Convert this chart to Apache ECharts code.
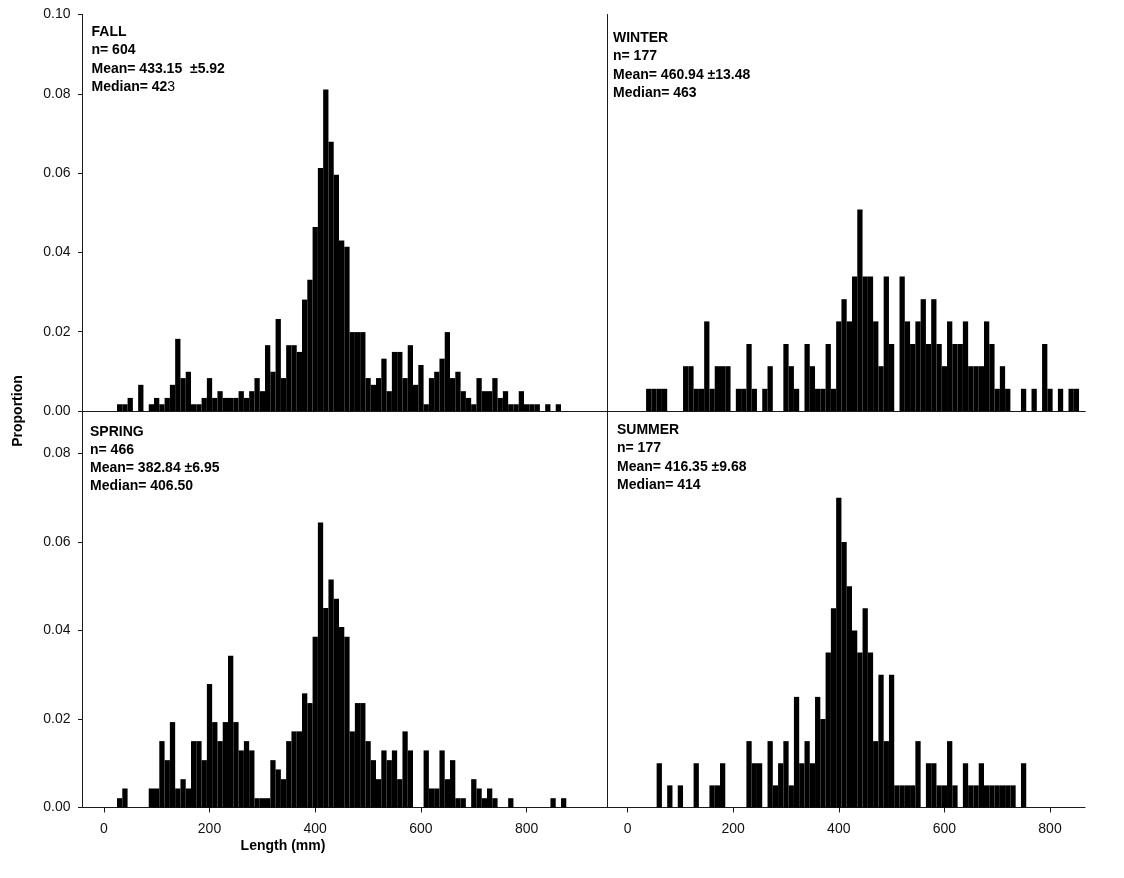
<!DOCTYPE html>
<html>
<head>
<meta charset="utf-8">
<script src="https://cdn.jsdelivr.net/npm/echarts@6/dist/echarts.min.js"></script>
<style>
  html, body { margin: 0; padding: 0; background: #fff; }
  #chart { width: 1124px; height: 878px; }
</style>
</head>
<body>
<div id="chart"></div>
<script>
// bin centres (mm), 10 mm wide bins
const bins = [10, 20, 30, 40, 50, 60, 70, 80, 90, 100, 110, 120, 130, 140, 150, 160, 170, 180, 190, 200,
    210, 220, 230, 240, 250, 260, 270, 280, 290, 300, 310, 320, 330, 340, 350, 360, 370, 380, 390, 400,
    410, 420, 430, 440, 450, 460, 470, 480, 490, 500, 510, 520, 530, 540, 550, 560, 570, 580, 590, 600,
    610, 620, 630, 640, 650, 660, 670, 680, 690, 700, 710, 720, 730, 740, 750, 760, 770, 780, 790, 800,
    810, 820, 830, 840, 850, 860, 870];

const fall = [0, 0, 0.0017, 0.0017, 0.0033, 0, 0.0066, 0, 0.0017, 0.0033, 0.0017, 0.0033, 0.0066, 0.0182, 0.0083, 0.0099, 0.0017, 0.0017, 0.0033, 0.0083,
    0.0033, 0.0050, 0.0033, 0.0033, 0.0033, 0.0050, 0.0033, 0.0050, 0.0083, 0.0050, 0.0166, 0.0099, 0.0232, 0.0083, 0.0166, 0.0166, 0.0149, 0.0281, 0.0331, 0.0464,
    0.0613, 0.0811, 0.0679, 0.0596, 0.0430, 0.0414, 0.0199, 0.0199, 0.0199, 0.0083, 0.0066, 0.0083, 0.0132, 0.0050, 0.0149, 0.0149, 0.0083, 0.0166, 0.0066, 0.0116,
    0.0017, 0.0083, 0.0099, 0.0132, 0.0199, 0.0083, 0.0099, 0.0050, 0.0033, 0.0017, 0.0083, 0.0050, 0.0050, 0.0083, 0.0033, 0.0050, 0.0017, 0.0017, 0.0050, 0.0017,
    0.0017, 0.0017, 0, 0.0017, 0, 0.0017, 0];

const winter = [0, 0, 0, 0.0056, 0.0056, 0.0056, 0.0056, 0, 0, 0, 0.0113, 0.0113, 0.0056, 0.0056, 0.0226, 0.0056, 0.0113, 0.0113, 0.0113, 0,
    0.0056, 0.0056, 0.0169, 0.0056, 0, 0.0056, 0.0113, 0, 0, 0.0169, 0.0113, 0.0056, 0, 0.0169, 0.0113, 0.0056, 0.0056, 0.0169, 0.0056, 0.0226,
    0.0282, 0.0226, 0.0339, 0.0508, 0.0339, 0.0339, 0.0226, 0.0113, 0.0339, 0.0169, 0, 0.0339, 0.0226, 0.0169, 0.0226, 0.0282, 0.0169, 0.0282, 0.0169, 0.0113,
    0.0226, 0.0169, 0.0169, 0.0226, 0.0113, 0.0113, 0.0113, 0.0226, 0.0169, 0.0056, 0.0113, 0.0056, 0, 0, 0.0056, 0, 0.0056, 0, 0.0169, 0.0056,
    0, 0.0056, 0, 0.0056, 0.0056, 0, 0];

const spring = [0, 0, 0.0021, 0.0043, 0, 0, 0, 0, 0.0043, 0.0043, 0.0150, 0.0107, 0.0193, 0.0043, 0.0064, 0.0043, 0.0150, 0.0150, 0.0107, 0.0279,
    0.0193, 0.0150, 0.0193, 0.0343, 0.0193, 0.0129, 0.0150, 0.0129, 0.0021, 0.0021, 0.0021, 0.0107, 0.0086, 0.0064, 0.0150, 0.0172, 0.0172, 0.0258, 0.0236, 0.0386,
    0.0644, 0.0451, 0.0515, 0.0472, 0.0408, 0.0386, 0.0172, 0.0236, 0.0236, 0.0150, 0.0107, 0.0064, 0.0129, 0.0107, 0.0129, 0.0064, 0.0172, 0.0129, 0, 0,
    0.0129, 0.0043, 0.0043, 0.0129, 0.0064, 0.0107, 0.0021, 0.0021, 0, 0.0064, 0.0043, 0.0021, 0.0043, 0.0021, 0, 0, 0.0021, 0, 0, 0,
    0, 0, 0, 0, 0.0021, 0, 0.0021];

const summer = [0, 0, 0, 0, 0, 0.0100, 0, 0.0050, 0, 0.0050, 0, 0, 0.0100, 0, 0, 0.0050, 0.0050, 0.0100, 0, 0,
    0, 0, 0.0150, 0.0100, 0.0100, 0, 0.0150, 0.0050, 0.0100, 0.0150, 0.0050, 0.0250, 0.0100, 0.0150, 0.0100, 0.0250, 0.0200, 0.0350, 0.0450, 0.0700,
    0.0600, 0.0500, 0.0400, 0.0350, 0.0450, 0.0350, 0.0150, 0.0300, 0.0150, 0.0300, 0.0050, 0.0050, 0.0050, 0.0050, 0.0150, 0, 0.0100, 0.0100, 0.0050, 0.0050,
    0.0150, 0.0050, 0, 0.0100, 0.0050, 0.0050, 0.0100, 0.0050, 0.0050, 0.0050, 0.0050, 0.0050, 0.0050, 0, 0.0100, 0, 0, 0, 0, 0,
    0, 0, 0, 0, 0, 0, 0];

const xTicks = [0, 200, 400, 600, 800];
const yTicks = [0, 0.02, 0.04, 0.06, 0.08, 0.10];

const panelText = [
    'FALL\nn= 604\nMean= 433.15  ±5.92\nMedian= 42{r|3}',
    'WINTER\nn= 177\nMean= 460.94 ±13.48\nMedian= 463',
    'SPRING\nn= 466\nMean= 382.84 ±6.95\nMedian= 406.50',
    'SUMMER\nn= 177\nMean= 416.35 ±9.68\nMedian= 414'
];

const FONT = '"Liberation Sans", Arial, Helvetica, sans-serif';
const AXIS_COLOR = '#1a1a1a';
const binHalf = 5;

const chart = echarts.init(document.getElementById('chart'));

function toPairs(vals) {
    return bins.map((b, i) => [b, vals[i]]);
}

function renderBin(params, api) {
    const x = api.value(0);
    const y = api.value(1);
    if (!y) return;
    const p0 = api.coord([x - binHalf, y]);
    const p1 = api.coord([x + binHalf, 0]);
    return {
        type: 'rect',
        shape: { x: p0[0], y: p0[1], width: p1[0] - p0[0], height: p1[1] - p0[1] },
        style: { fill: '#000' }
    };
}

const grids = [
    { left: 82.5, top: 14.5, width: 524.5, height: 396.5 },
    { left: 607, top: 14.5, width: 478, height: 396.5 },
    { left: 82.5, top: 411, width: 524.5, height: 396.5 },
    { left: 607, top: 411, width: 478, height: 396.5 }
];

const lineStyle = { color: AXIS_COLOR, width: 1 };
const labelStyle = { color: '#111', fontFamily: FONT, fontSize: 14 };

const xAxes = [];
const yAxes = [];
for (let g = 0; g < 4; g++) {
    const isLeft = g % 2 === 0;
    const isBottom = g >= 2;
    xAxes.push({
        type: 'value',
        gridIndex: g,
        min: isLeft ? -40.3 : -39,
        max: isLeft ? 952 : 866.3,
        splitLine: { show: false },
        axisLine: { show: true, onZero: false, lineStyle: lineStyle },
        axisTick: { show: isBottom, length: 5, inside: false, customValues: xTicks, lineStyle: lineStyle },
        axisLabel: { show: isBottom, margin: 15, customValues: xTicks, ...labelStyle }
    });
    yAxes.push({
        type: 'value',
        gridIndex: g,
        min: 0,
        max: isBottom ? 0.0896 : 0.10,
        splitLine: { show: false },
        axisLine: { show: true, onZero: false, lineStyle: lineStyle },
        axisTick: { show: isLeft, length: 4.5, customValues: isBottom ? yTicks.slice(0, 5) : yTicks, lineStyle: lineStyle },
        axisLabel: {
            show: isLeft,
            margin: 12,
            customValues: isBottom ? yTicks.slice(0, 5) : yTicks,
            formatter: v => v.toFixed(2),
            ...labelStyle
        }
    });
}
// top frame line over the upper panels
[0, 1].forEach(g => {
    xAxes.push({
        type: 'value',
        gridIndex: g,
        position: 'top',
        min: 0,
        max: 1,
        splitLine: { show: false },
        axisLine: { show: true, lineStyle: lineStyle },
        axisTick: { show: false },
        axisLabel: { show: false }
    });
});

const panelPos = [
    { left: 91.5, top: 23 },
    { left: 613, top: 29 },
    { left: 90, top: 422.5 },
    { left: 617, top: 421 }
];

const titles = panelText.map((t, i) => ({
    text: t,
    left: panelPos[i].left,
    top: panelPos[i].top,
    padding: 0,
    textStyle: {
        fontFamily: FONT,
        fontSize: 14,
        fontWeight: 'bold',
        lineHeight: 18.3,
        color: '#000',
        rich: { r: { fontFamily: FONT, fontSize: 14, fontWeight: 'normal', color: '#000' } }
    }
}));

const seriesData = [fall, winter, spring, summer];

chart.setOption({
    backgroundColor: '#fff',
    animation: false,
    title: titles,
    grid: grids,
    xAxis: xAxes,
    yAxis: yAxes,
    series: seriesData.map((vals, g) => ({
        type: 'custom',
        xAxisIndex: g,
        yAxisIndex: g,
        renderItem: renderBin,
        data: toPairs(vals)
    })),
    graphic: [
        {
            type: 'text',
            x: 18, y: 411,
            rotation: Math.PI / 2,
            style: {
                text: 'Proportion', fontFamily: FONT, fontSize: 14, fontWeight: 'bold',
                fill: '#000', align: 'center', verticalAlign: 'middle'
            }
        },
        {
            type: 'text',
            x: 283, y: 846,
            style: {
                text: 'Length (mm)', fontFamily: FONT, fontSize: 14, fontWeight: 'bold',
                fill: '#000', align: 'center', verticalAlign: 'middle'
            }
        }
    ]
});
</script>
</body>
</html>
